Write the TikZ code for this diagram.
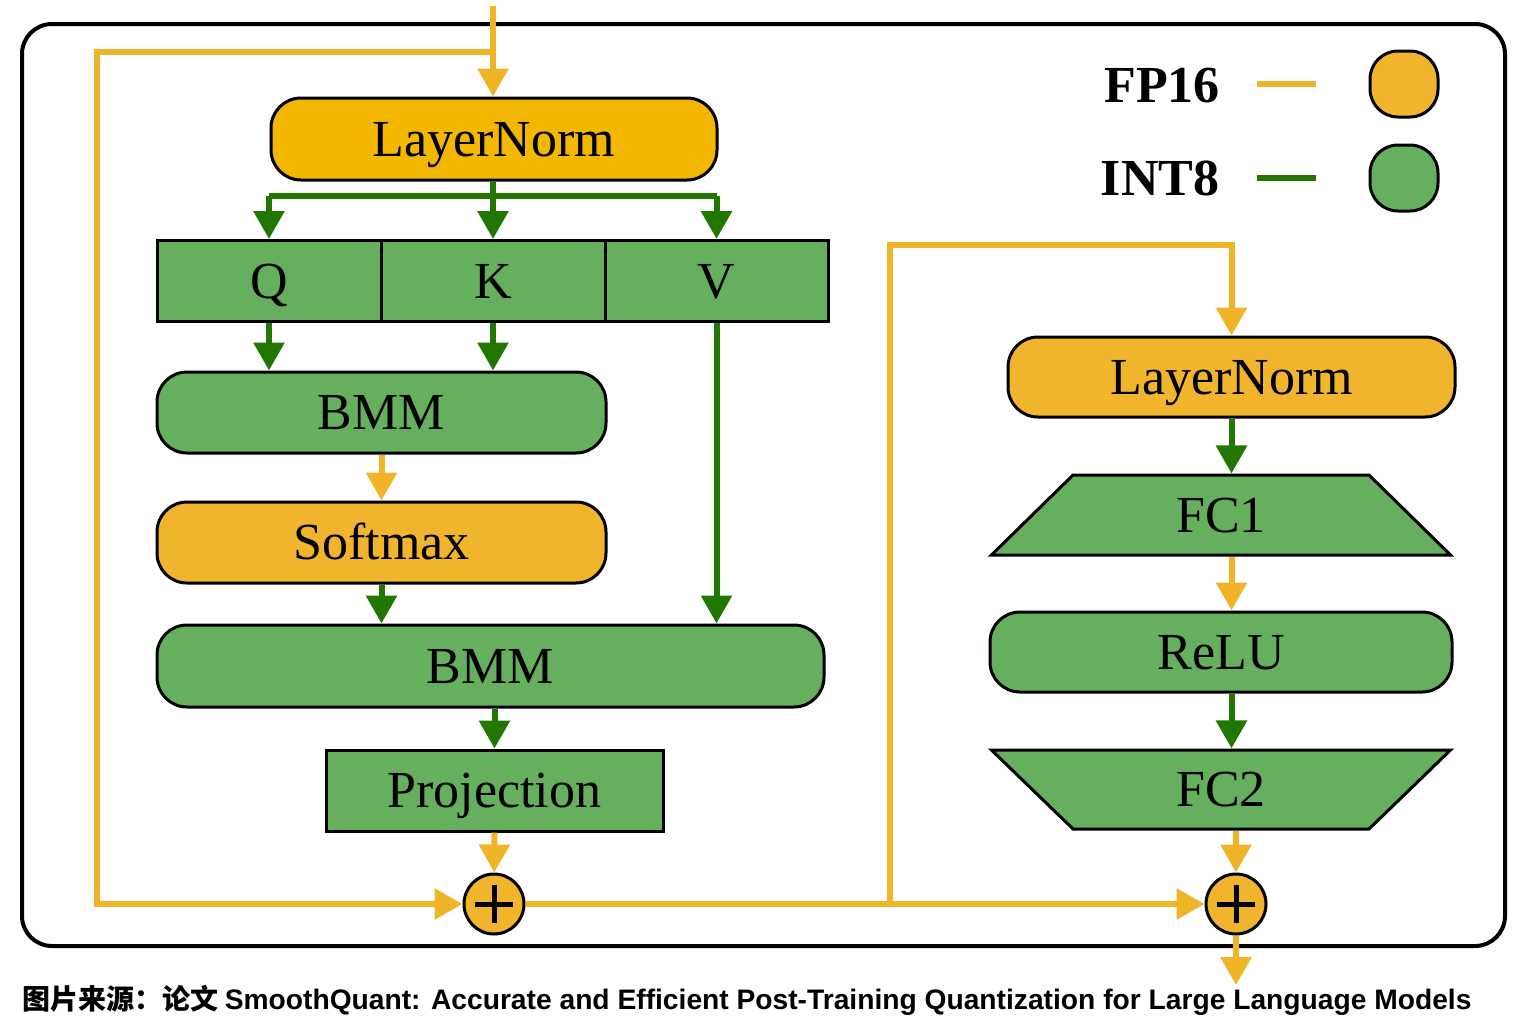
\documentclass[tikz,border=0pt]{standalone}
\usepackage{fontspec}
\setmainfont{Liberation Serif}
\newfontfamily\capfont{Liberation Sans}
\newfontfamily\cjk{Noto Sans CJK SC}
\usetikzlibrary{arrows.meta,shapes.geometric}

\definecolor{lnorange}{RGB}{243,183,0}
\definecolor{fporange}{RGB}{240,181,45}
\definecolor{fpline}{RGB}{240,180,41}
\definecolor{intfill}{RGB}{102,175,95}
\definecolor{intline}{RGB}{33,119,0}

\begin{document}
\begin{tikzpicture}[x=0.5pt,y=-0.5pt,
  box/.style={draw=black,line width=1.5pt,minimum height=40.5pt,inner sep=0pt,
    text height=17pt,text depth=0pt,font=\fontsize{26}{30}\selectfont},
  roundbox/.style={box,rounded corners=15pt},
  fpbox/.style={roundbox,fill=fporange},
  intbox/.style={box,fill=intfill},
  intround/.style={roundbox,fill=intfill},
  fcbox/.style={intbox,trapezium,trapezium angle=54,trapezium stretches=true,
    minimum width=231pt,minimum height=40pt},
  plusnode/.style={circle,draw=black,line width=1.5pt,fill=fporange,minimum size=30pt,inner sep=0pt,
    path picture={\draw[line width=2.5pt]
      ([xshift=-9.5pt]path picture bounding box.center) -- ([xshift=9.5pt]path picture bounding box.center)
      ([yshift=-9.5pt]path picture bounding box.center) -- ([yshift=9.5pt]path picture bounding box.center);}},
  fp/.style={draw=fpline,line width=3pt},
  int/.style={draw=intline,line width=3pt},
  fparrow/.style={fp,-{Triangle[width=15pt,length=14pt]}},
  intarrow/.style={int,-{Triangle[width=15pt,length=14pt]}},
  legend/.style={font=\fontsize{26}{30}\selectfont\bfseries}
]
\useasboundingbox (0,0) rectangle (1526,1034);

%frame
\draw[line width=2pt,rounded corners=15pt] (22,24) rectangle (1505,946);

%attention block
\node[roundbox,fill=lnorange,minimum width=223pt,minimum height=41pt] (ln1) at (494,139) {LayerNorm};
\node[intbox,minimum width=112pt] (q) at (269,281) {Q};
\node[intbox,minimum width=112pt] (k) at (493,281) {K};
\node[intbox,minimum width=111.5pt] (v) at (716.5,281) {V};
\node[intround,minimum width=224.5pt] (bmma) at (381.5,412.5) {BMM};
\node[fpbox,minimum width=224.5pt] (soft) at (381.5,542.5) {Softmax};
\node[intround,minimum width=333.5pt,minimum height=41pt] (bmmb) at (490.5,666) {BMM};
\node[intbox,minimum width=168.5pt] (proj) at (494.5,790.5) {Projection};
\node[plusnode] (plusa) at (494,904) {};

%mlp block
\node[fpbox,minimum width=223.5pt,minimum height=40pt] (ln2) at (1231.5,377) {LayerNorm};
\node[fcbox] (fca) at (1221,515) {FC1};
\node[intround,minimum width=231pt,minimum height=40pt] (relu) at (1221,652) {ReLU};
\node[fcbox,shape border rotate=180,minimum height=39.5pt] (fcb) at (1221,789.5) {FC2};
\node[plusnode] (plusb) at (1236,904) {};

%legend
\node[legend] (fp16) at (1162,86) {FP16};
\node[legend] (int8) at (1160,178) {INT8};
\draw[fp] (1257,84) -- (1316,84);
\draw[int] (1257,178) -- (1316,178);
\node[fpbox,minimum width=34pt,minimum height=33pt,rounded corners=14pt] (fpkey) at (1404,84) {};
\node[intround,minimum width=34pt,minimum height=33pt,rounded corners=14pt] (intkey) at (1404,178) {};

\coordinate (top) at (493,6);
\coordinate (res) at (97,52);
\coordinate (fan) at (493,196);
\coordinate (br) at (890,904);
\coordinate (brtop) at (890,245);
\coordinate (out) at (1236,985);

%fp16 paths
\draw[fparrow] (top) -- (top |- ln1.north);
\draw[fparrow] (top |- res) -- (res) |- (plusa.west);
\draw[fparrow] (bmma) -- (soft);
\draw[fparrow] (proj.south) -- (plusa);
\draw[fparrow] (plusa) -- (plusb);
\draw[fparrow] (br) -- (brtop) -| (ln2.north);
\draw[fparrow] (ln2 |- fca.south) -- (ln2 |- relu.north);
\draw[fparrow] (plusb |- fcb.south) -- (plusb);
\draw[fparrow] (plusb) -- (out);

%int8 paths
\draw[int] (fan |- ln1.south) -- (fan) (q |- fan) -- (v |- fan);
\foreach \n in {q,k,v}
  \draw[intarrow] (\n |- fan) -- (\n.north);
\draw[intarrow] (q.south) -- (q.south |- bmma.north);
\draw[intarrow] (k.south) -- (k.south |- bmma.north);
\draw[intarrow] (v.south) -- (v.south |- bmmb.north);
\draw[intarrow] (soft.south) -- (soft.south |- bmmb.north);
\draw[intarrow] (proj |- bmmb.south) -- (proj.north);
\draw[intarrow] (ln2.south) -- (ln2 |- fca.north);
\draw[intarrow] (ln2 |- relu.south) -- (ln2 |- fcb.north);

%caption
\node[anchor=west,inner sep=0pt] (cap) at (22,1000)
  {\fontsize{14}{16}\selectfont\cjk\bfseries 图片来源：论文\ \capfont\bfseries\fontsize{14.1}{16}\selectfont SmoothQuant: Accurate and Efficient Post-Training Quantization for Large Language Models};
\end{tikzpicture}
\end{document}
